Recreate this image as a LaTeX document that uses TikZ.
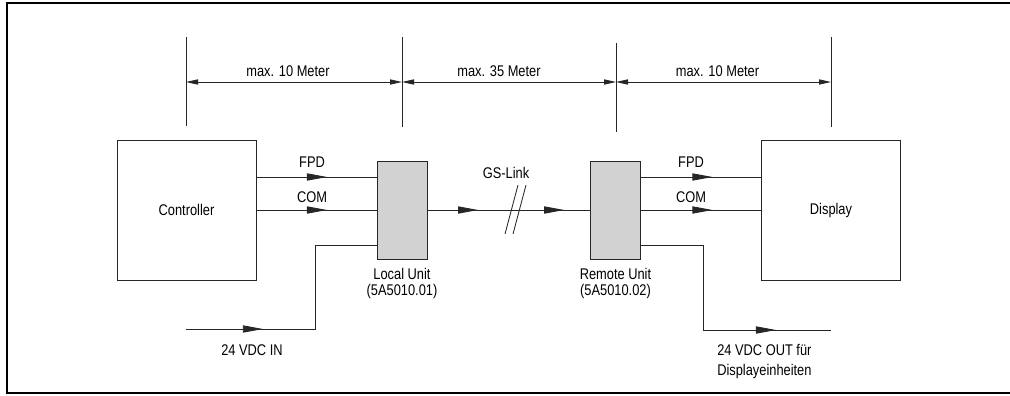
\documentclass[tikz,border=0pt]{standalone}
\usepackage{fontspec}
\setmainfont{Liberation Sans}[FakeStretch=0.83]
\usetikzlibrary{arrows.meta,decorations.markings,positioning}
\tikzstyle{device} = [rectangle, minimum width=3.475cm, minimum height=3.5cm, text centered, draw=black!85, line width=0.6pt]
\tikzstyle{unit} = [rectangle, minimum width=1.25cm, minimum height=2.45cm, draw=black!85, line width=0.6pt, fill=gray!35]
\tikzstyle{wire} = [draw=black!85, line width=0.6pt]
\tikzstyle{dim} = [wire, {Triangle[length=0.3cm,width=0.13cm]}-{Triangle[length=0.3cm,width=0.13cm]}]
\tikzset{flow/.style={wire, postaction={decorate, decoration={markings, mark=at position #1 with {\arrow{Triangle[length=0.5cm,width=0.18cm]}}}}}}

\begin{document}
\begin{tikzpicture}[x=0.025cm, y=-0.025cm, font=\fontsize{11}{11.4}\selectfont]
\useasboundingbox (0,0) rectangle (1010,395);
\draw[line width=1.4pt] (1010,3) -- (7,3) -- (7,393) -- (1010,393);

% blocks
\node (ctrl) [device] at (186.5,210) {Controller};
\node (local) [unit] at (402,210) {};
\node (remote) [unit] at (615.5,210) {};
\node (disp) [device] at (831,210) {Display};
\node (locallabel) [below=0.1cm of local, align=center] {Local Unit\\(5A5010.01)};
\node (remotelabel) [below=0.1cm of remote, align=center] {Remote Unit\\(5A5010.02)};

% distances
\coordinate (e1t) at (186,37);  \coordinate (e1b) at (186,126);
\coordinate (e2t) at (402,37);  \coordinate (e2b) at (402,127);
\coordinate (e3t) at (616,43);  \coordinate (e3b) at (616,132);
\coordinate (e4t) at (831,37);  \coordinate (e4b) at (831,127);
\draw [wire] (e1t) -- (e1b);
\draw [wire] (e2t) -- (e2b);
\draw [wire] (e3t) -- (e3b);
\draw [wire] (e4t) -- (e4b);
\coordinate (d1) at (186,82);
\coordinate (d2) at (402,82);
\coordinate (d3) at (616,82);
\coordinate (d4) at (831,82);
\draw [dim] (d1) -- node[above, xshift=-0.15cm] (len1) {max. 10 Meter} (d2);
\draw [dim] (d2) -- node[above, xshift=-0.25cm] (len2) {max. 35 Meter} (d3);
\draw [dim] (d3) -- node[above, xshift=-0.15cm] (len3) {max. 10 Meter} (d4);

% signals
\draw [flow=0.587] ([yshift=0.825cm]ctrl.east) -- ([yshift=0.825cm]local.west);
\draw [flow=0.587] (ctrl.east) -- (local.west);
\draw [flow=0.311, flow=0.841] (local.east) -- (remote.west);
\draw [flow=0.595] ([yshift=0.825cm]remote.east) -- ([yshift=0.825cm]disp.west);
\draw [flow=0.595] (remote.east) -- (disp.west);
\draw [wire] (505,234) -- (518,185);
\draw [wire] (513,234) -- (526,185);
\node (fpdin) at (312,162) {FPD};
\node (comin) at (312,197) {COM};
\node (link) at (506,173) {GS-Link};
\node (fpdout) at (691,162) {FPD};
\node (comout) at (691,197) {COM};

% supply
\coordinate (vin) at (186,329);
\coordinate (vinbend) at (315,329);
\draw [flow=0.28] (vin) -- (vinbend) |- ([yshift=-0.875cm]local.west);
\node (vinlabel) at (252,350) {24 VDC IN};
\coordinate (voutbend) at (703,330);
\coordinate (vout) at (831,330);
\draw [flow=0.80] ([yshift=-0.875cm]remote.east) -| (voutbend) -- (vout);
\node (voutlabel) [anchor=north west, align=left, inner sep=0pt] at (717,344) {24 VDC OUT für\\[2.5pt]Displayeinheiten};

\end{tikzpicture}
\end{document}
